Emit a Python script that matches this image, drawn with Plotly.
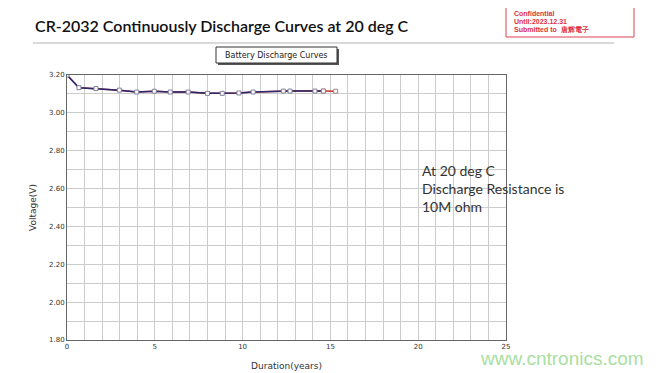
import plotly.graph_objects as go

# Data
years_a = [0.0, 0.68, 1.65, 2.98, 3.97, 4.97, 5.88, 6.9, 8.0, 8.84, 9.79, 10.6, 12.32, 12.7, 14.12, 14.6]
volts_a = [3.20, 3.133, 3.128, 3.12, 3.11, 3.114, 3.11, 3.11, 3.103, 3.103, 3.105, 3.11, 3.115, 3.115, 3.115, 3.115]
years_b = [14.6, 15.3]
volts_b = [3.115, 3.114]

y_ticks = [1.80, 2.00, 2.20, 2.40, 2.60, 2.80, 3.00, 3.20]
x_ticks = [0, 5, 10, 15, 20, 25]

conf_lines = ["Confidential", "Until:2023.12.31", "Submitted to  唐辉電子"]

fig = go.Figure()
fig.add_trace(go.Scatter(x=years_a, y=volts_a, mode="lines", line=dict(color="#b02040", width=1.5), showlegend=False))
fig.add_trace(go.Scatter(x=years_a, y=volts_a, mode="lines+markers",
                         line=dict(color="#2a2a6a", width=1.5),
                         marker=dict(symbol="square", size=4, color="white", line=dict(color="#8080a0", width=1)),
                         showlegend=False))
fig.add_trace(go.Scatter(x=years_b, y=volts_b, mode="lines+markers",
                         line=dict(color="#c03030", width=1.5),
                         marker=dict(symbol="square", size=4, color="white", line=dict(color="#a08080", width=1)),
                         showlegend=False))

tickfont = dict(family="DejaVu Sans", size=7, color="#333333")
fig.update_xaxes(range=[0, 25], tickvals=x_ticks, ticktext=[str(v) for v in x_ticks],
                 showgrid=True, gridcolor="#cccccc", gridwidth=1,
                 minor=dict(dtick=1, showgrid=True, gridcolor="#cccccc", gridwidth=1),
                 showline=True, linecolor="#666666", linewidth=1, mirror=True,
                 zeroline=False, tickfont=tickfont, ticks="", automargin=False,
                 title=dict(text="Duration(years)", font=dict(family="DejaVu Sans", size=9, color="#333333"), standoff=12))
fig.update_yaxes(range=[1.80, 3.20], tickvals=y_ticks, ticktext=[f"{v:.2f}" for v in y_ticks],
                 showgrid=True, gridcolor="#cccccc", gridwidth=1,
                 minor=dict(dtick=0.1, tick0=1.8, showgrid=True, gridcolor="#cccccc", gridwidth=1),
                 showline=True, linecolor="#666666", linewidth=1, mirror=True,
                 zeroline=False, tickfont=tickfont, ticks="", automargin=False,
                 title=dict(text="Voltage(V)", font=dict(family="DejaVu Sans", size=9, color="#333333"), standoff=10))

def px(x):
    return (x - 67) / 439

def py(y):
    return (340 - y) / 265

annotations = [
    dict(text="CR-2032 Continuously Discharge Curves at 20 deg C", xref="paper", yref="paper",
         x=px(33), y=py(25), xanchor="left", yanchor="middle", showarrow=False,
         font=dict(family="Lato", size=16, color="#111111", weight=600)),
    dict(text="Battery Discharge Curves", xref="paper", yref="paper",
         x=px(276), y=py(55), xanchor="center", yanchor="middle", showarrow=False,
         font=dict(family="DejaVu Sans", size=8, color="#222222")),
    dict(text="At 20 deg C<br>Discharge Resistance is<br>10M ohm", xref="paper", yref="paper",
         x=px(420), y=py(188), xanchor="left", yanchor="middle", showarrow=False, align="left",
         font=dict(family="Lato", size=14, color="#333333")),
    dict(text="www.cntronics.com", xref="paper", yref="paper",
         x=px(478), y=py(358), xanchor="left", yanchor="middle", showarrow=False,
         font=dict(family="Liberation Sans", size=19, color="#a8e0a0")),
]
for i, line in enumerate(conf_lines):
    annotations.append(dict(text="<b>" + line + "</b>", xref="paper", yref="paper",
                            x=px(512), y=py(13 + 8 * i), xanchor="left", yanchor="middle",
                            showarrow=False, align="left",
                            font=dict(family="Liberation Sans", size=7, color="#e03040")))

fig.update_layout(
    width=661, height=373,
    margin=dict(l=59, r=163, t=67, b=41),
    plot_bgcolor="white", paper_bgcolor="white",
    shapes=[
        dict(type="line", xref="paper", yref="paper", x0=px(33), x1=px(614),
             y0=py(43), y1=py(43), line=dict(color="#cccccc", width=1.5)),
        dict(type="rect", xref="paper", yref="paper", x0=px(506), x1=px(634),
             y0=py(37), y1=py(-2), line=dict(color="#e04050", width=1)),
        dict(type="rect", xref="paper", yref="paper", x0=px(218), x1=px(339),
             y0=py(65), y1=py(49), line=dict(width=0), fillcolor="#555555"),
        dict(type="rect", xref="paper", yref="paper", x0=px(216), x1=px(337),
             y0=py(63), y1=py(47), line=dict(color="#333333", width=1), fillcolor="white"),
    ],
    annotations=annotations,
)

fig.write_html("out.html")
